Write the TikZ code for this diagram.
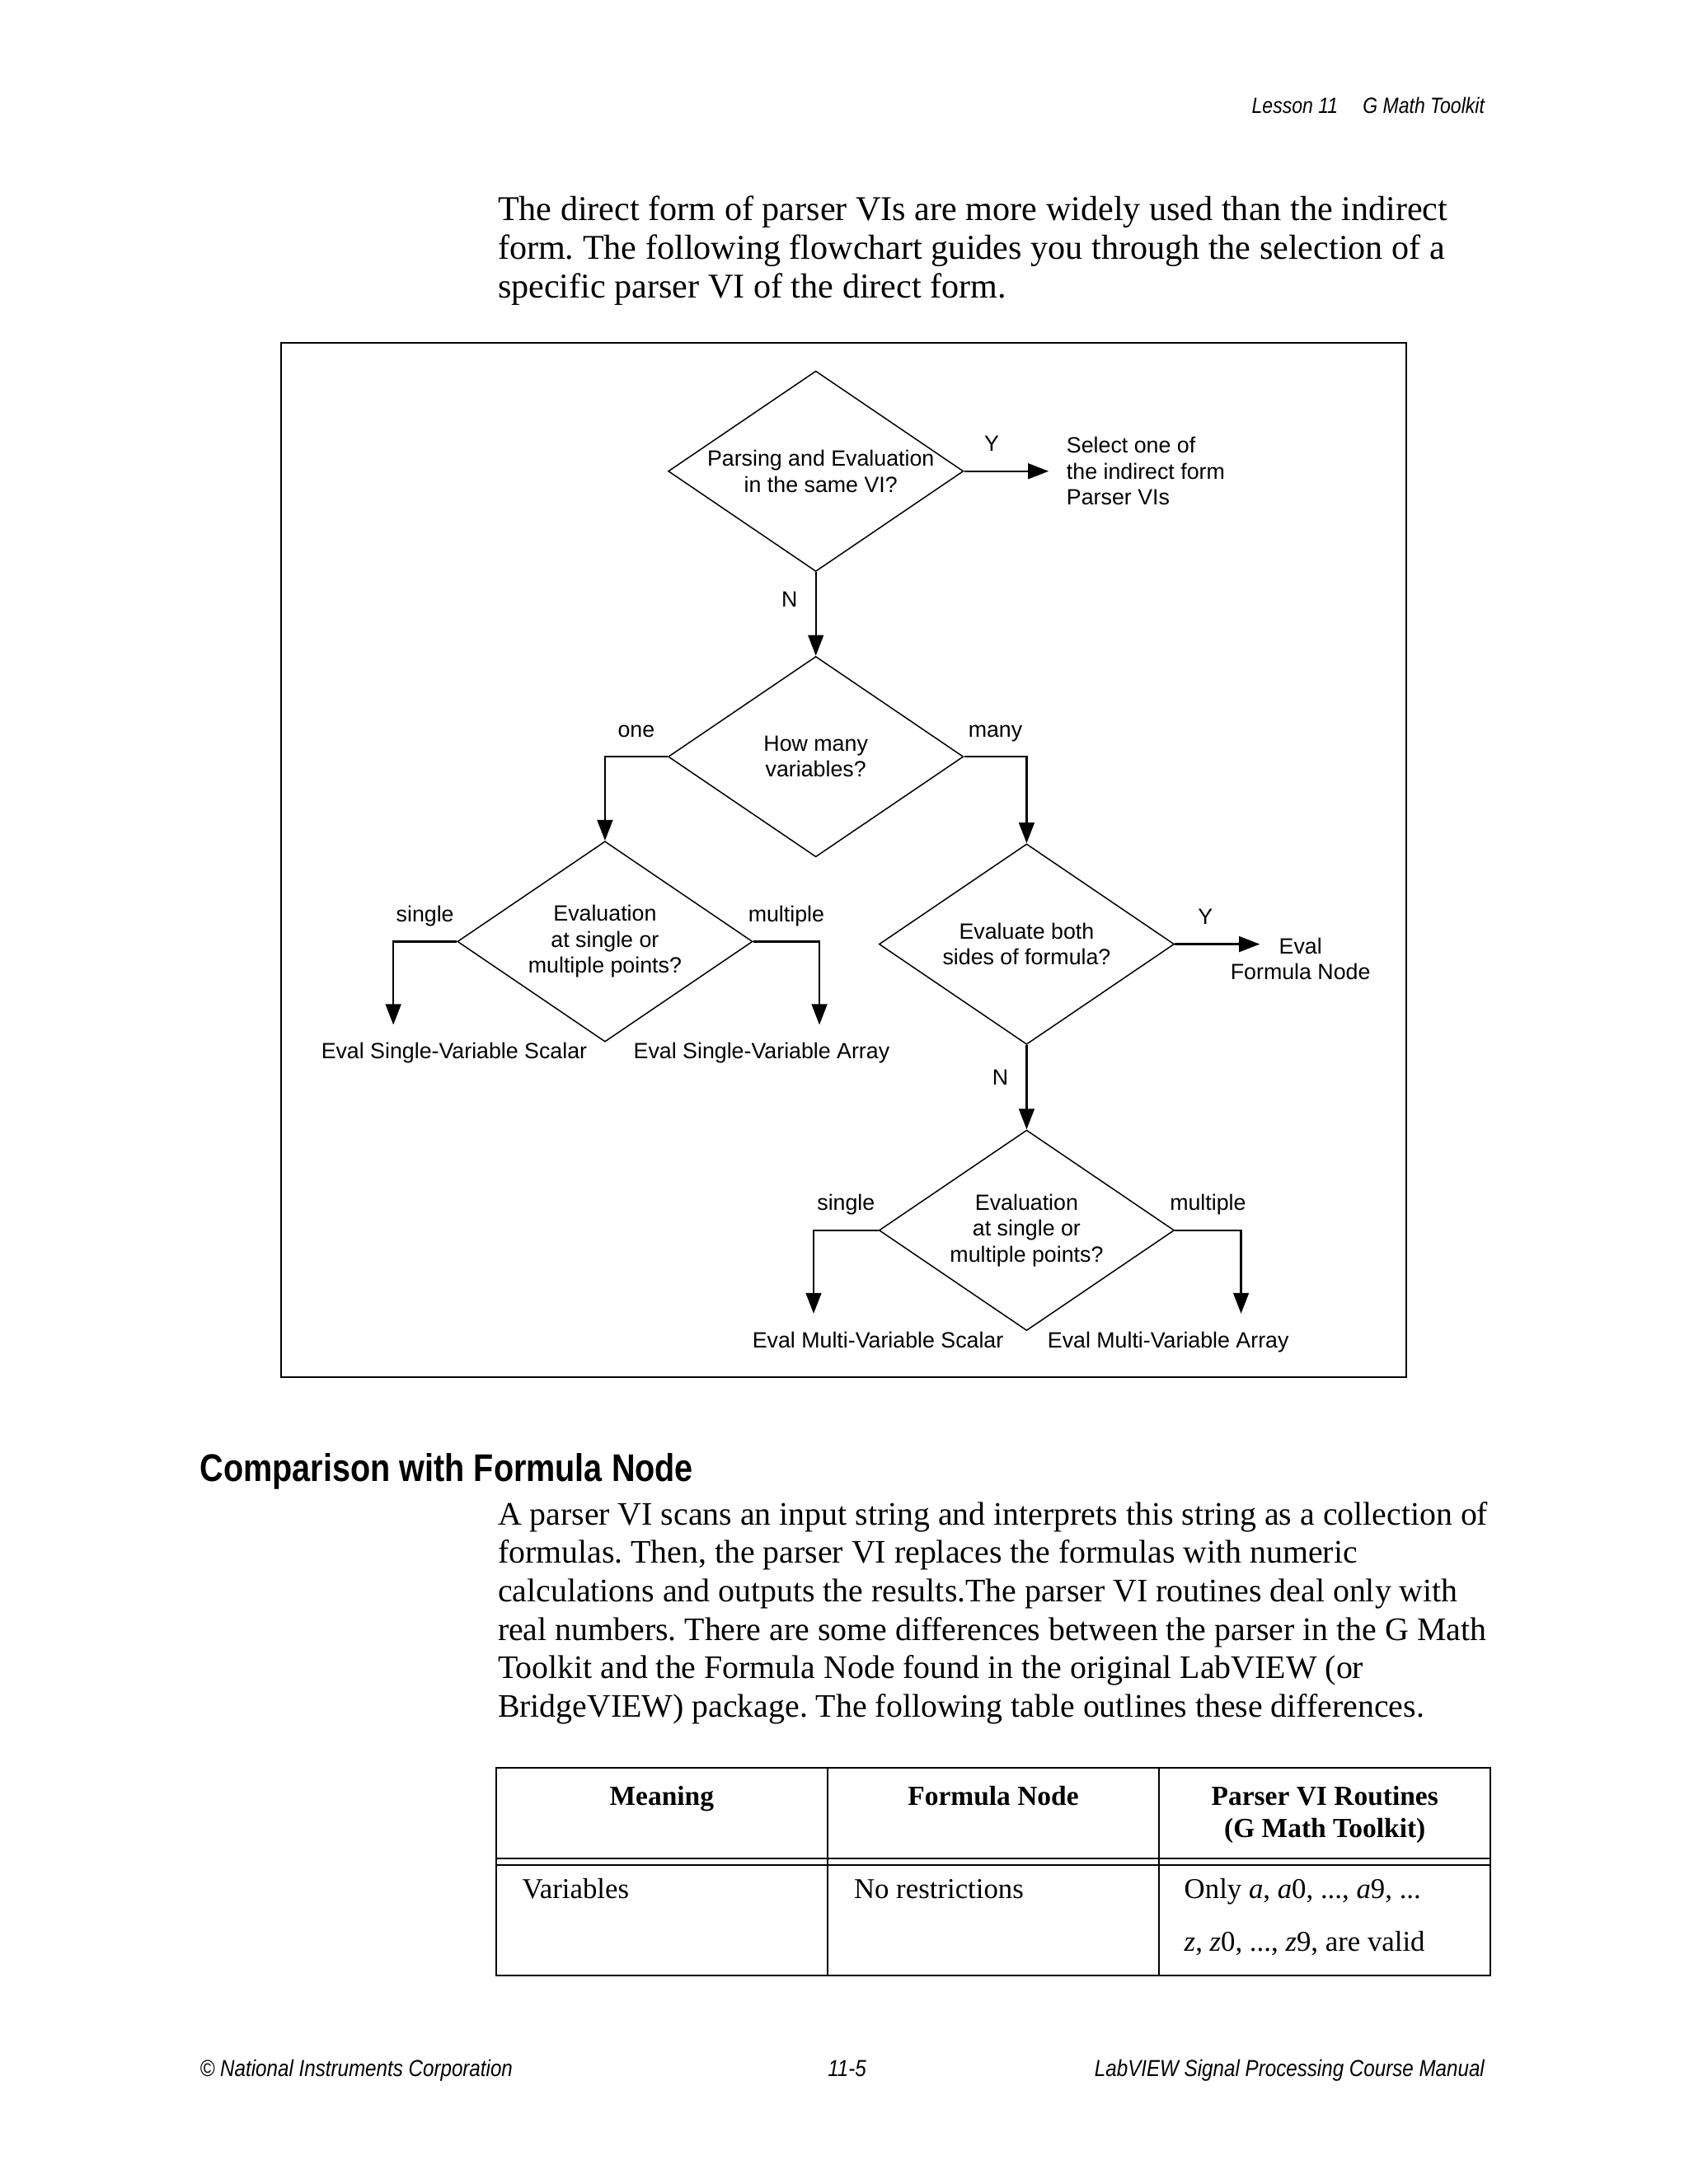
\documentclass[tikz,border=0pt]{standalone}
\usepackage{fontspec}
\setmainfont{Liberation Serif}
\newfontfamily\chartfont{Liberation Sans}
\newfontfamily\narrowfont[FakeStretch=0.86]{Liberation Sans}
\newfontfamily\headingfont[FakeStretch=0.845]{Liberation Sans}
\usetikzlibrary{positioning,shapes.geometric,arrows.meta}
\frenchspacing

\begin{document}
\begin{tikzpicture}[x=0.505pt, y=-0.505pt, >={Triangle[length=7.5pt, width=5.6pt]},
  decision/.style={diamond, draw, line width=0.45pt, minimum width=107pt, minimum height=72.7pt, inner sep=0pt},
  dtext/.style={font=\chartfont\fontsize{8}{9.4}\selectfont, align=center, inner sep=0pt},
  leaf/.style={font=\chartfont\fontsize{8}{9.4}\selectfont, inner sep=0pt},
  lbl/.style={leaf, text depth=0pt},
  flow/.style={->, line width=0.7pt},
  para/.style={anchor=base west, inner sep=0pt},
  cell/.style={font=\fontsize{10.4}{12}\selectfont, anchor=base west, inner sep=0pt},
  hcell/.style={font=\bfseries\fontsize{10}{12}\selectfont, anchor=base, inner sep=0pt},
  pagefoot/.style={font=\narrowfont\itshape\fontsize{8}{9.6}\selectfont, inner sep=0pt}]

  \useasboundingbox (0,0) rectangle (1212,1568);

  \node[pagefoot, anchor=base east] (lesson) at (1066,81.3) {Lesson 11\hspace{9pt}G Math Toolkit};

  \node[para, font=\fontsize{12.6}{14}\selectfont] (p1a) at (357,158.4) {The direct form of parser VIs are more widely used than the indirect};
  \node[para, font=\fontsize{12.6}{14}\selectfont] (p1b) at (357,186.1) {form. The following flowchart guides you through the selection of a};
  \node[para, font=\fontsize{12.6}{14}\selectfont] (p1c) at (357,213.8) {specific parser VI of the direct form.};

  \draw[line width=0.8pt] (201.8,246.2) rectangle (1009.5,988.8);

  \node[decision, label={[dtext, xshift=1.8pt]center:Parsing and Evaluation\\in the same VI?}] (d1) at (585.6,338.3) {};
  \node[leaf, align=left, right=37pt of d1] (sel) {Select one of\\the indirect form\\Parser VIs};
  \node[decision, below=30.35pt of d1, label={[dtext]center:How many\\variables?}] (d2) {};
  \node[decision, below=30.45pt of d2.west, xshift=-22.7pt, label={[dtext]center:Evaluation\\at single or\\multiple points?}] (d3) {};
  \node[decision, below=31.4pt of d2.east, xshift=22.7pt, label={[dtext]center:Evaluate both\\sides of formula?}] (d4) {};
  \node[decision, below=30.6pt of d4, label={[dtext]center:Evaluation\\at single or\\multiple points?}] (d5) {};

  \coordinate[right=30.8pt of d4] (d4y);
  \node[leaf, align=center, right=20pt of d4, yshift=-5.3pt] (fnode) {Eval\\Formula Node};

  \coordinate[below left=30.2pt and 23pt of d3.west] (d3l);
  \coordinate[below right=30.2pt and 24pt of d3.east] (d3r);
  \coordinate[below left=30.2pt and 23.5pt of d5.west] (d5l);
  \coordinate[below right=30.2pt and 24pt of d5.east] (d5r);

  \node[leaf, below left=6pt and 6.3pt of d3.south, anchor=base east] (sv1) {Eval Single-Variable Scalar};
  \node[leaf, below right=6pt and 10.2pt of d3.south, anchor=base west] (sv2) {Eval Single-Variable Array};
  \node[leaf, below left=6pt and 8.2pt of d5.south, anchor=base east] (mv1) {Eval Multi-Variable Scalar};
  \node[leaf, below right=6pt and 7.4pt of d5.south, anchor=base west] (mv2) {Eval Multi-Variable Array};

  \draw[flow, shorten >=6.3pt] (d1) -- node[lbl, above=6.8pt, pos=0.27] (y1) {Y} (sel);
  \draw[flow] (d1) -- node[lbl, left=6.3pt, pos=0.33] (n1) {N} (d2);
  \draw[flow] (d2.west) -| node[lbl, above=6.8pt, pos=0.25] (one) {one} (d3.north);
  \draw[flow] (d2.east) -| node[lbl, above=6.8pt, pos=0.25] (many) {many} (d4.north);
  \draw[flow] (d3.west) -| node[lbl, above=6.8pt, pos=0.25] (s1) {single} (d3l);
  \draw[flow] (d3.east) -| node[lbl, above=6.8pt, pos=0.25] (m1) {multiple} (d3r);
  \draw[flow] (d4) -- node[lbl, above=6.8pt, pos=0.36] (y2) {Y} (d4y);
  \draw[flow] (d4) -- node[lbl, left=6.3pt, pos=0.38] (n2) {N} (d5);
  \draw[flow] (d5.west) -| node[lbl, above=6.8pt, pos=0.25] (s2) {single} (d5l);
  \draw[flow] (d5.east) -| node[lbl, above=6.8pt, pos=0.25] (m2) {multiple} (d5r);

  \node[para, font=\headingfont\bfseries\fontsize{14}{16}\selectfont] (sec) at (143.2,1063.5) {Comparison with Formula Node};

  \node[para, font=\fontsize{11.9}{14}\selectfont] (p2a) at (357,1094.7) {A parser VI scans an input string and interprets this string as a collection of};
  \node[para, font=\fontsize{11.9}{14}\selectfont] (p2b) at (357,1122.3) {formulas. Then, the parser VI replaces the formulas with numeric};
  \node[para, font=\fontsize{11.9}{14}\selectfont] (p2c) at (357,1149.9) {calculations and outputs the results.The parser VI routines deal only with};
  \node[para, font=\fontsize{11.9}{14}\selectfont] (p2d) at (357,1177.5) {real numbers. There are some differences between the parser in the G Math};
  \node[para, font=\fontsize{11.9}{14}\selectfont] (p2e) at (357,1205.1) {Toolkit and the Formula Node found in the original LabVIEW (or};
  \node[para, font=\fontsize{11.9}{14}\selectfont] (p2f) at (357,1232.7) {BridgeVIEW) package. The following table outlines these differences.};

  \draw[line width=0.6pt] (356,1269) rectangle (1070,1418)
    (594,1269) -- (594,1418) (832,1269) -- (832,1418)
    (356,1334) -- (1070,1334) (356,1339) -- (1070,1339);
  \node[hcell] (h1) at (475,1295.9) {Meaning};
  \node[hcell] (h2) at (713,1295.9) {Formula Node};
  \node[hcell] (h3) at (951,1295.9) {Parser VI Routines};
  \node[hcell] (h3b) at (951,1319.3) {(G Math Toolkit)};
  \node[cell] (c1) at (374.5,1362.9) {Variables};
  \node[cell] (c2) at (612.6,1362.9) {No restrictions};
  \node[cell] (c3) at (849.7,1362.9) {Only \textit{a}, \textit{a}0, ..., \textit{a}9, ...};
  \node[cell] (c3b) at (849.7,1400.8) {\textit{z}, \textit{z}0, ..., \textit{z}9, are valid};

  \node[pagefoot, font=\narrowfont\itshape\fontsize{8.4}{9.6}\selectfont, anchor=base west] (corp) at (143.2,1491) {\textcopyright{} National Instruments Corporation};
  \node[pagefoot, font=\narrowfont\itshape\fontsize{8.4}{9.6}\selectfont, anchor=base] (pageno) at (608,1491) {11-5};
  \node[pagefoot, font=\narrowfont\itshape\fontsize{8.4}{9.6}\selectfont, anchor=base east] (manual) at (1066,1491) {LabVIEW Signal Processing Course Manual};
\end{tikzpicture}
\end{document}
